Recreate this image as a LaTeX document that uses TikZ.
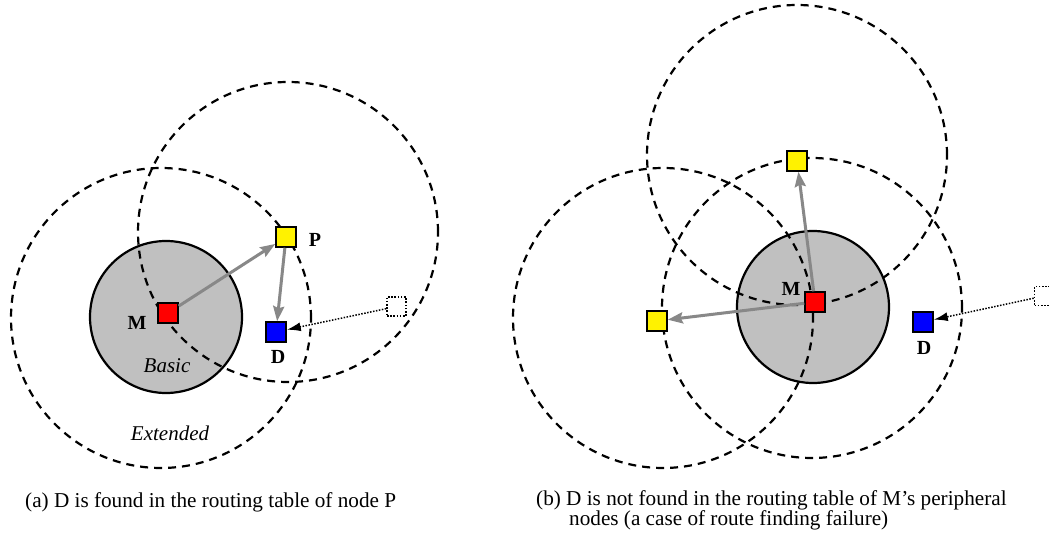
\documentclass[tikz,border=0pt]{standalone}
\usepackage{fontspec}
\setmainfont{Liberation Serif}
\usetikzlibrary{arrows.meta}
\definecolor{rgray}{RGB}{192,192,192}
\definecolor{agray}{RGB}{136,136,136}
\begin{document}
\begin{tikzpicture}[x=1pt,y=-1pt,
  rangecirc/.style={draw=black,line width=2.2pt,dash pattern=on 8pt off 6pt},
  basicarea/.style={draw=black,line width=2.2pt,fill=rgray},
  sqnode/.style={draw=black,line width=1.5pt,minimum size=20pt,inner sep=0pt},
  ghostnode/.style={draw=black,line width=1.6pt,dash pattern=on 1.6pt off 1.6pt,minimum size=19pt,inner sep=0pt},
  routearrow/.style={draw=agray,line width=3pt,-{Stealth[length=15pt,width=11pt,inset=2pt]}},
  queryarrow/.style={draw=black,line width=1.5pt,dash pattern=on 1.5pt off 1.5pt,-{Latex[length=14pt,width=9pt]}},
  nodelabel/.style={font=\fontsize{20}{23}\selectfont\bfseries},
  areatext/.style={font=\fontsize{21}{24}\selectfont\itshape},
  captext/.style={font=\fontsize{21.2}{24}\selectfont,anchor=base west,inner sep=0pt}]
\useasboundingbox (0,0) rectangle (1049,540);
\fill[white] (0,0) rectangle (1049,540);
% ---- (a) ----
\draw[basicarea] (166,317) circle[radius=76pt];
\draw[rangecirc] (161,318) circle[radius=150pt];
\draw[rangecirc] (288,232) circle[radius=150pt];
\node[sqnode,fill=red] (M) at (168,313) {};
\node[sqnode,fill=yellow] (P) at (286,237) {};
\node[sqnode,fill=blue] (D) at (276,332) {};
\node[ghostnode] (X) at (396.5,306.5) {};
\node[nodelabel] (lM) at (137,323) {M};
\node[nodelabel] (lP) at (315,240) {P};
\node[nodelabel] (lD) at (278,357) {D};
\node[areatext] (lB) at (167,366) {Basic};
\node[areatext] (lE) at (170,433) {Extended};
\draw[routearrow] (M) -- (P);
\draw[routearrow] (P) -- (D);
\draw[queryarrow] (X) -- (D);
% ---- (b) ----
\draw[basicarea] (813,307) circle[radius=76pt];
\draw[rangecirc] (663,318) circle[radius=150pt];
\draw[rangecirc] (812,308) circle[radius=150pt];
\draw[rangecirc] (797,155) circle[radius=150pt];
\node[sqnode,fill=red] (M2) at (815,302) {};
\node[sqnode,fill=yellow] (Y1) at (797,161) {};
\node[sqnode,fill=yellow] (Y2) at (657,321) {};
\node[sqnode,fill=blue] (D2) at (923,322) {};
\node[ghostnode] (X2) at (1044,296) {};
\node[nodelabel] (lM2) at (791,289) {M};
\node[nodelabel] (lD2) at (924,348) {D};
\draw[routearrow] (M2) -- (Y1);
\draw[routearrow] (M2) -- (Y2);
\draw[queryarrow] (X2) -- (D2);
% ---- captions ----
\node[captext] (ca) at (25,507) {(a) D is found in the routing table of node P};
\node[captext] (cb1) at (536,505) {(b) D is not found in the routing table of M’s peripheral};
\node[captext] (cb2) at (569,525.5) {nodes (a case of route finding failure)};
\end{tikzpicture}
\end{document}
